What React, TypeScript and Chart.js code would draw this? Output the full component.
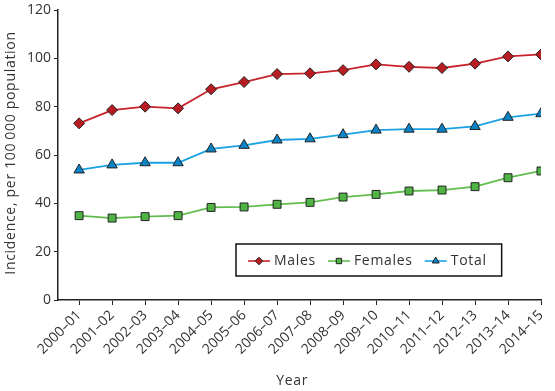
import React, { useEffect, useRef } from "react";
import { Chart, registerables } from "chart.js";

Chart.register(...registerables);

const categories = [
  "2000–01", "2001–02", "2002–03", "2003–04", "2004–05", "2005–06", "2006–07", "2007–08",
  "2008–09", "2009–10", "2010–11", "2011–12", "2012–13", "2013–14", "2014–15",
];
const males = [73.1, 78.6, 80.0, 79.3, 87.2, 90.2, 93.5, 93.8, 95.1, 97.5, 96.5, 96.0, 97.8, 100.8, 101.6];
const females = [34.9, 33.9, 34.5, 34.9, 38.3, 38.5, 39.6, 40.4, 42.6, 43.7, 45.1, 45.5, 46.9, 50.6, 53.4];
const total = [53.8, 55.9, 56.8, 56.8, 62.5, 64.0, 66.2, 66.7, 68.4, 70.3, 70.7, 70.7, 71.8, 75.6, 77.1];
const yTicks = [0, 20, 40, 60, 80, 100, 120];

const FONT = "'Open Sans', Inter, sans-serif";
const TEXT = "#333333";

const seriesStyles = [
  { label: "Males", data: males, line: "#c8232b", fill: "#b81c22", style: "rectRot", r: 5.5 },
  { label: "Females", data: females, line: "#62bd4f", fill: "#4fb443", style: "rect", r: 5.6 },
  { label: "Total", data: total, line: "#1ba1e2", fill: "#0a84c6", style: "triangle", r: 6 },
];

function drawMarker(ctx: CanvasRenderingContext2D, style: string, x: number, y: number, r: number) {
  ctx.beginPath();
  if (style === "rectRot") {
    ctx.moveTo(x, y - r);
    ctx.lineTo(x + r, y);
    ctx.lineTo(x, y + r);
    ctx.lineTo(x - r, y);
  } else if (style === "rect") {
    const s = r * Math.SQRT1_2;
    ctx.rect(x - s, y - s, 2 * s, 2 * s);
  } else {
    const h = r * 0.866;
    ctx.moveTo(x, y - r);
    ctx.lineTo(x + h, y + r / 2);
    ctx.lineTo(x - h, y + r / 2);
  }
  ctx.closePath();
  ctx.fill();
  ctx.stroke();
}

const overlayPlugin = {
  id: "overlay",
  afterDraw(chart: any) {
    const ctx = chart.ctx as CanvasRenderingContext2D;
    const area = chart.chartArea;
    ctx.save();
    (ctx as any).letterSpacing = "0.7px";
    ctx.fillStyle = TEXT;
    ctx.font = `14px ${FONT}`;
    ctx.textAlign = "center";
    ctx.textBaseline = "middle";
    ctx.fillText("Year", area.left + (area.right - area.left) * 0.485, 381);
    ctx.save();
    ctx.translate(11, (area.top + area.bottom) / 2 - 2);
    ctx.rotate(-Math.PI / 2);
    ctx.fillText("Incidence, per 100\u2009000 population", 0, 0);
    ctx.restore();

    const boxLeft = area.left + 178;
    const boxTop = 244;
    const boxH = 32;
    const cy = boxTop + boxH / 2 + 1;
    let x = boxLeft + 12;
    ctx.textAlign = "left";
    const items: { x: number; s: any }[] = [];
    seriesStyles.forEach((s) => {
      items.push({ x, s });
      x += 22 + 4 + ctx.measureText(s.label).width + 12;
    });
    const boxRight = x + 3;
    ctx.lineWidth = 1.5;
    ctx.strokeStyle = "#111";
    ctx.strokeRect(boxLeft, boxTop, boxRight - boxLeft, boxH);
    items.forEach(({ x, s }) => {
      ctx.strokeStyle = s.line;
      ctx.lineWidth = 1.6;
      ctx.beginPath();
      ctx.moveTo(x, cy);
      ctx.lineTo(x + 22, cy);
      ctx.stroke();
      ctx.fillStyle = s.fill;
      ctx.strokeStyle = "#222";
      ctx.lineWidth = 1;
      drawMarker(ctx, s.style, x + 11, cy, s.style === "triangle" ? 4 : 3.8);
      ctx.fillStyle = TEXT;
      ctx.fillText(s.label, x + 26, cy);
    });
    ctx.restore();
  },
};

export default function App() {
  const ref = useRef<HTMLCanvasElement>(null);
  useEffect(() => {
    if (!ref.current) return;
    const chart = new Chart(ref.current, {
      type: "line",
      data: {
        datasets: seriesStyles.map((s) => ({
          label: s.label,
          data: s.data.map((v, i) => ({ x: i, y: v })),
          borderColor: s.line,
          borderWidth: 1.8,
          backgroundColor: s.fill,
          pointBackgroundColor: s.fill,
          pointBorderColor: "#222",
          pointBorderWidth: 1,
          pointStyle: s.style as any,
          pointRadius: s.r,
          tension: 0,
        })),
      },
      options: {
        animation: false,
        responsive: false,
        layout: { padding: { top: 10, right: 14, left: 0, bottom: 0 } },
        plugins: { legend: { display: false }, tooltip: { enabled: false } },
        scales: {
          x: {
            type: "linear",
            min: -0.64,
            max: categories.length - 1,
            afterBuildTicks: (scale: any) => {
              scale.ticks = categories.map((_, i) => ({ value: i }));
            },
            afterFit: (scale: any) => {
              scale.height = 91;
              scale.paddingLeft = 0;
              scale.paddingRight = 0;
            },
            grid: { drawOnChartArea: false, drawTicks: true, tickLength: 5, color: "#222", lineWidth: 1 },
            border: { display: true, color: "#222", width: 1.5 },
            ticks: {
              autoSkip: false,
              minRotation: 45,
              maxRotation: 45,
              padding: 2,
              color: TEXT,
              font: { family: FONT, size: 14 },
              callback: (v: any) => categories[v as number] ?? "",
            },
          },
          y: {
            min: 0,
            max: 120,
            afterBuildTicks: (scale: any) => {
              scale.ticks = yTicks.map((v) => ({ value: v }));
            },
            afterFit: (scale: any) => {
              scale.width = 58;
              scale.paddingTop = 0;
              scale.paddingBottom = 0;
            },
            grid: { drawOnChartArea: false, drawTicks: true, tickLength: 4, color: "#222", lineWidth: 1 },
            border: { display: true, color: "#222", width: 1.5 },
            ticks: {
              padding: 3,
              color: TEXT,
              font: { family: FONT, size: 14 },
            },
          },
        },
      },
      plugins: [overlayPlugin],
    });
    return () => chart.destroy();
  }, []);
  return (
    <div style={{ position: "fixed", left: 0, top: 0, width: 555, height: 391, background: "#fff" }}>
      <canvas ref={ref} width={555} height={391} style={{ width: 555, height: 391 }} />
    </div>
  );
}
